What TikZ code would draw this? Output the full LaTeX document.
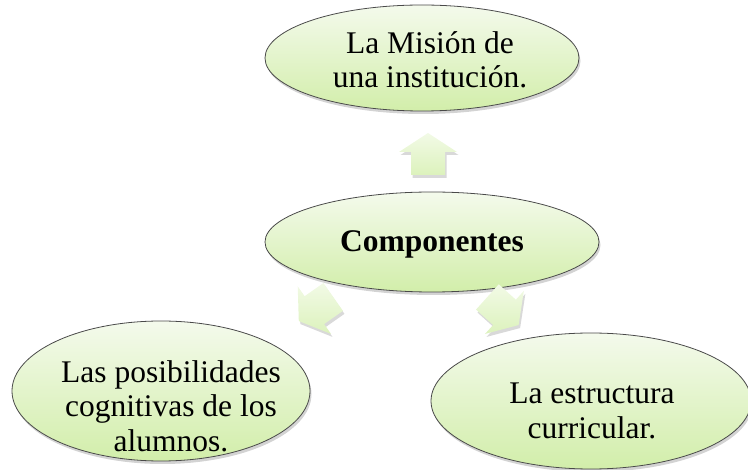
\documentclass[tikz,border=0pt]{standalone}
\usepackage{fontspec}
\setmainfont{Liberation Serif}
\usetikzlibrary{shapes.geometric,shadows}
\definecolor{gtop}{HTML}{F4FAEC}
\definecolor{gbot}{HTML}{D2EEAA}
\definecolor{atop}{HTML}{F2FAE6}
\definecolor{abot}{HTML}{DCF2BC}
\definecolor{edge}{HTML}{4A4A4A}
\tikzset{
  oval/.style={ellipse, draw=edge, line width=0.8pt, inner sep=0pt,
    top color=gtop, bottom color=gbot,
    drop shadow={opacity=0.35, shadow xshift=1.5pt, shadow yshift=-3pt}},
  lbl/.style={align=center, font=\fontsize{31.5}{34.5}\selectfont, text=black},
  blk/.style={draw=none, top color=atop, bottom color=abot,
    drop shadow={opacity=0.3, shadow xshift=1.5pt, shadow yshift=-3pt}},
}
\newcommand{\blockarr}[3]{% center, angle, name
  \path[blk, shift={#1}, rotate=#2] (-21,-17) -- (2,-17) -- (2,-29) -- (21,0) -- (2,29) -- (2,17) -- (-21,17) -- cycle;
  \coordinate (#3) at #1;}
\begin{document}
\begin{tikzpicture}[x=1pt,y=-1pt]
\useasboundingbox (0,0) rectangle (748,470);
% ovals
\node[oval, minimum width=314pt, minimum height=106pt] (mision) at (422,58) {};
\node[oval, minimum width=334pt, minimum height=100pt] (comp) at (432,242) {};
\node[oval, minimum width=298pt, minimum height=140pt] (alum) at (161,391) {};
\node[oval, minimum width=320pt, minimum height=136pt] (estr) at (591,401) {};
% texts
\node[lbl] (misiont) at (430,60) {La Misión de\\una institución.};
\node[lbl, font=\fontsize{31.5}{34.5}\selectfont\bfseries] (compt) at (432,244) {Componentes};
\node[lbl] (alumt) at (171,406) {Las posibilidades\\cognitivas de los\\alumnos.};
\node[lbl] (estrt) at (592,411) {La estructura\\curricular.};
% block arrows
\blockarr{(428,154)}{90}{aup}
\blockarr{(316,309)}{215}{aleft}
\blockarr{(503,311)}{-42}{aright}
\end{tikzpicture}
\end{document}
